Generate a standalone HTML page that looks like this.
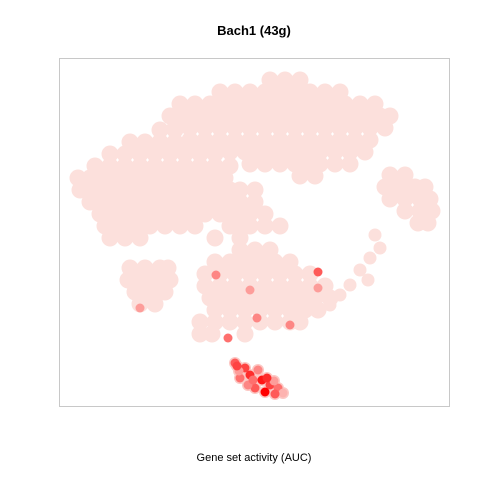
<!DOCTYPE html>
<html><head><meta charset="utf-8"><style>
body{margin:0;background:#fff;font-family:"Liberation Sans",sans-serif}
</style></head><body>
<svg id="chart" width="480" height="480" xmlns="http://www.w3.org/2000/svg">
<rect width="480" height="480" fill="#fff"/>
<text x="254" y="35" text-anchor="middle" font-size="13" font-weight="bold" font-family="Liberation Sans, sans-serif">Bach1 (43g)</text>
<text x="254" y="461" text-anchor="middle" font-size="11" font-family="Liberation Sans, sans-serif">Gene set activity (AUC)</text>
<g id="pts"></g>
<rect x="59.5" y="58.5" width="390" height="348" fill="none" stroke="#c8c8c8"/>
</svg>
<script>
const rowY = [326,314,302,290,278,266,254,242,230,276,264,252,240,228,216,204,192,180,168,156,144,132,120,108,96,84,72,138,126,114,102,231,219,207,195,183];
const rowX = [
[211,226,241],
[161,176,191,206,221,236,251,266,281],
[121,136,151,166,181,196,211,226,241,256,271,286,301,316],
[111,126,141,156,171,186,201,216,231,246,261,276,291,306,321,331],
[116,131,146,161,176,191,206,221,236,251,266,281,296,311,326],
[131,146,161,176,191,206,221,236,251,266,281,296,311],
[156,171,186,201,216,231,246,261,276,291,306],
[191,206,221,236,251,261,276,291],
[241,256],
[101,116],
[71,86,101,116,131,146],
[51,66,81,96,111,126,141,156],
[36,51,66,81,96,111,126,141,156,171],
[19,31,46,61,76,91,106,121,136,151,166],
[21,36,51,66,81,96,111,126,141,156,171,181,196],
[31,46,61,76,91,106,121,136,151,166,181,196],
[41,56,71,86,101,116,131,146,161,176,191,206],
[46,61,76,91,106,121,136,171,186,191,206,221],
[51,66,81,156,181],
[181,196,211],
[156,171,186,201,216,231],
[146,161,176,191,206,221,236,251],
[146,161,176,191,206,221,236,251,266],
[151,166,181,196,211,226,241,256,271],
[156,171,186,201,216,231,246,259],
[141,156,171,186,201,216,231,241],
[141,153,186],
[71,86,101,109],
[69,81,96,111],
[76,91,106],
[81,96],
[331,346],
[326,341,356,366],
[331,346,361,371],
[346,361,373],
[359,369]
];
const armX = [316,321,311,301,309,291,281,271];
const armY = [171,158,148,136,126,121,111,101];
const actX = [176,186,181,191,199,203,211,206,219,224,196,189,180,215,178,194,208,216,259,157,191,231,169,81,198,259];
const actY = [43,38,28,31,36,26,21,14,18,13,18,21,35,25,40,26,28,12,134,131,116,81,68,98,88,118];
const actV = [0.6,0.7,0.5,0.8,0.4,0.9,0.7,1.0,0.5,0.2,0.6,0.4,0.3,0.3,0.7,0.5,0.8,0.6,0.6,0.4,0.3,0.4,0.5,0.3,0.4,0.3];
const xDomain=[0,390], yDomain=[0,348];
const X=v=>59+(v-xDomain[0])/(xDomain[1]-xDomain[0])*390;
const Y=v=>406-(v-yDomain[0])/(yDomain[1]-yDomain[0])*348;
const g=document.getElementById('pts');
const NS='http://www.w3.org/2000/svg';
function dot(x,y,col,r){
  const c=document.createElementNS(NS,'circle');
  c.setAttribute('cx',X(x));c.setAttribute('cy',Y(y));c.setAttribute('r',r);c.setAttribute('fill',col);
  
  
  g.appendChild(c);
}
const base='rgb(252,224,220)';
rowY.forEach((y,i)=>rowX[i].forEach(x=>dot(x,y,base,8.5)));
armX.forEach((x,i)=>dot(x,armY[i],base,6.5));
actX.slice(0,18).forEach((x,i)=>dot(x,actY[i],'rgb(252,200,196)',6));
actX.forEach((x,i)=>{
  const v=actV[i];
  const gg=Math.round(224*(1-v)), bb=Math.round(220*(1-v)), rr=Math.round(252+(255-252)*v);
  dot(x,actY[i],`rgb(${rr},${gg},${bb})`,4.5);
});
</script>
</body></html>
